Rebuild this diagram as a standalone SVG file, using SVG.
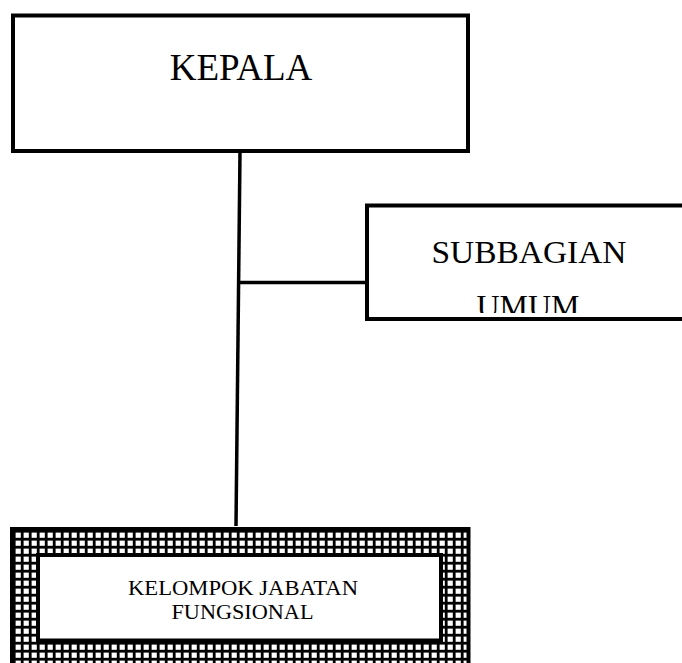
<svg xmlns="http://www.w3.org/2000/svg" width="682" height="663" viewBox="0 0 682 663">
<style>
.box{fill:#fff;stroke:#000;stroke-width:4}
.ln{stroke:#000;stroke-width:3.5;fill:none}
.t{font-family:"Liberation Serif","Times New Roman",serif;fill:#000;text-anchor:middle}
</style>
<defs>
<pattern id="grid" patternUnits="userSpaceOnUse" x="14" y="531" width="8" height="8">
<rect width="8" height="8" fill="#000"/>
<rect x="1.6" y="1.6" width="5.2" height="5.2" fill="#fff"/>
</pattern>
<clipPath id="clipSub"><rect x="369" y="207" width="320" height="106"/></clipPath>
</defs>
<rect width="682" height="663" fill="#fff"/>
<g id="connectors">
<line class="ln" x1="240" y1="152" x2="236" y2="526"/>
<line class="ln" x1="238.5" y1="282.5" x2="368" y2="282.5"/>
</g>
<g id="kepala">
<rect class="box" x="13" y="15.5" width="455" height="135.5"/>
<text class="t" x="241" y="80" font-size="37">KEPALA</text>
</g>
<g id="subbagian">
<rect class="box" x="367" y="205.5" width="340" height="113.5"/>
<g clip-path="url(#clipSub)">
<text class="t" x="529" y="263" font-size="31" textLength="195" lengthAdjust="spacingAndGlyphs">SUBBAGIAN</text>
<text class="t" x="528" y="317" font-size="31" textLength="103" lengthAdjust="spacingAndGlyphs">UMUM</text>
</g>
</g>
<g id="kelompok">
<rect x="12" y="529" width="456.5" height="150" fill="url(#grid)" stroke="#000" stroke-width="4"/>
<rect class="box" x="38" y="555" width="403" height="85.5"/>
<text class="t" x="243" y="595" font-size="20" textLength="230" lengthAdjust="spacingAndGlyphs">KELOMPOK JABATAN</text>
<text class="t" x="242.5" y="619" font-size="20" textLength="142" lengthAdjust="spacingAndGlyphs">FUNGSIONAL</text>
</g>
</svg>
